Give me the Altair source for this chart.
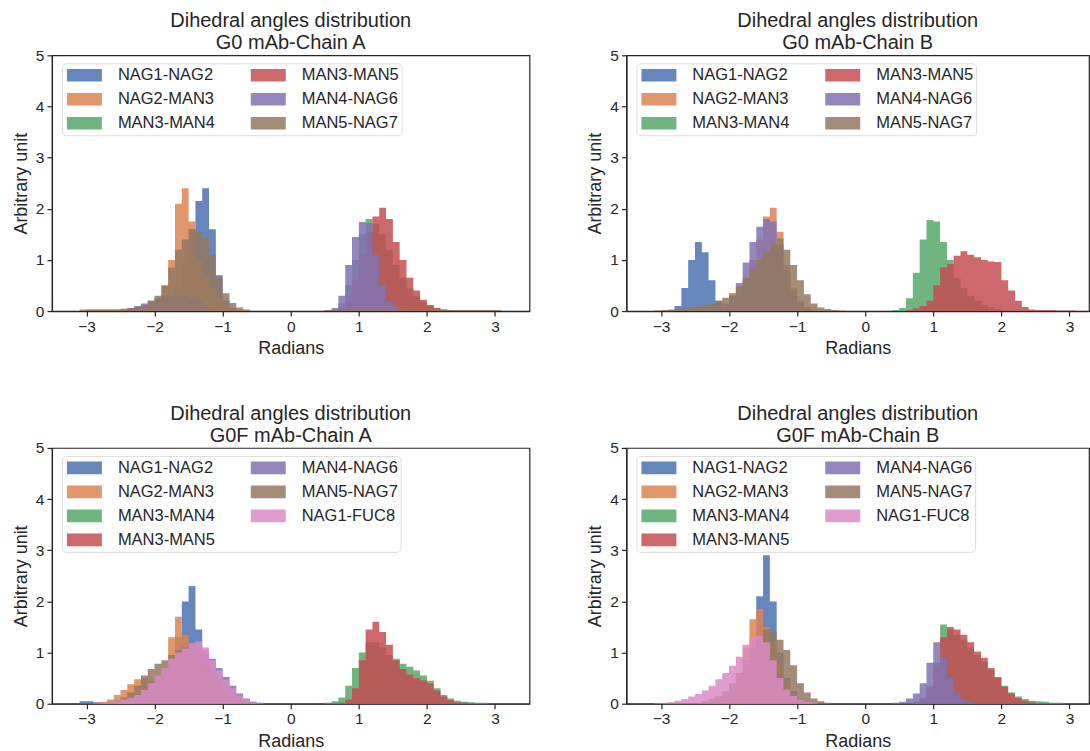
import altair as alt
import pandas as pd

FONT = "Liberation Sans"
TEXT = "#262626"

BIN = 0.1          # histogram bin width (radians)
GRID_START = -3.1  # left edge of the first bin
NBINS = 62

SERIES = ["NAG1-NAG2", "NAG2-MAN3", "MAN3-MAN4", "MAN3-MAN5", "MAN4-NAG6", "MAN5-NAG7", "NAG1-FUC8"]
COLORS = ["#4C72B0", "#DD8452", "#55A868", "#C44E52", "#8172B3", "#937860", "#DA8BC3"]

TITLES = ["G0 mAb-Chain A", "G0 mAb-Chain B", "G0F mAb-Chain A", "G0F mAb-Chain B"]

# Each series: list of (left edge of first bin, bin heights)
# ---- G0 mAb-Chain A
g0a_nag1_nag2 = [(-2.0, [0.03, 0.08, 0.2, 0.45, 0.9, 1.6, 2.15, 2.4, 1.6, 0.7, 0.2, 0.06, 0.02])]
g0a_nag2_man3 = [(-3.1, [0.03, 0.04, 0.04, 0.04, 0.04, 0.04, 0.05, 0.05, 0.07, 0.1, 0.15, 0.25, 0.5, 1.0,
                         2.1, 2.4, 1.75, 1.0, 0.7, 0.45, 0.25, 0.12, 0.05, 0.02])]
g0a_man3_man4 = [(0.6, [0.03, 0.15, 0.5, 1.0, 1.5, 1.8, 1.7, 1.5, 1.2, 0.9, 0.65, 0.45, 0.3, 0.18, 0.1, 0.05, 0.03])]
g0a_man3_man5 = [(0.7, [0.05, 0.2, 0.6, 1.1, 1.55, 1.85, 2.02, 1.8, 1.35, 1.0, 0.65, 0.4, 0.22, 0.12, 0.06, 0.03, 0.02])]
g0a_man4_nag6 = [(-2.5, [0.03, 0.06, 0.1, 0.15, 0.2, 0.25, 0.3, 0.3, 0.3, 0.3, 0.25, 0.2, 0.12, 0.06, 0.02]),
                 (0.5, [0.02, 0.06, 0.3, 0.9, 1.45, 1.74, 1.72, 1.1, 0.5, 0.2, 0.08, 0.03])]
g0a_man5_nag7 = [(-3.1, [0.02, 0.02, 0.02, 0.02, 0.02, 0.02, 0.03, 0.05, 0.08, 0.12, 0.2, 0.3, 0.5, 0.85, 1.2,
                         1.4, 1.6, 1.55, 1.45, 1.1, 0.65, 0.35, 0.16, 0.07, 0.03]),
                 (0.5, [0.02, 0.02, 0.03, 0.03, 0.03, 0.03, 0.03, 0.03, 0.03, 0.03, 0.03, 0.03, 0.03, 0.03, 0.03,
                        0.03, 0.02, 0.02, 0.02, 0.02, 0.02, 0.02, 0.02, 0.02, 0.02, 0.02])]

# ---- G0 mAb-Chain B
g0b_nag1_nag2 = [(-2.9, [0.02, 0.1, 0.45, 1.0, 1.35, 1.15, 0.6, 0.2, 0.05, 0.02])]
g0b_nag2_man3 = [(-2.1, [0.05, 0.12, 0.3, 0.6, 1.0, 1.4, 1.85, 2.02, 1.55, 0.9, 0.45, 0.2, 0.08, 0.03])]
g0b_man3_man4 = [(0.4, [0.02, 0.06, 0.25, 0.75, 1.4, 1.78, 1.75, 1.35, 1.0, 0.65, 0.45, 0.3, 0.2, 0.12, 0.07, 0.04, 0.02])]
g0b_man3_man5 = [(0.6, [0.02, 0.05, 0.1, 0.2, 0.5, 0.85, 0.92, 1.08, 1.17, 1.1, 1.05, 1.0, 0.97, 0.96, 0.6, 0.4,
                        0.2, 0.08, 0.03, 0.02, 0.02, 0.02, 0.01, 0.01, 0.01])]
g0b_man4_nag6 = [(-2.3, [0.03, 0.08, 0.15, 0.3, 0.55, 0.95, 1.35, 1.65, 1.8, 1.75, 1.3, 0.8, 0.4, 0.15, 0.05])]
g0b_man5_nag7 = [(-3.1, [0.01, 0.02, 0.03, 0.04, 0.05, 0.07, 0.09, 0.12, 0.16, 0.2, 0.26, 0.35, 0.48, 0.65, 0.82,
                         1.0, 1.15, 1.3, 1.42, 1.2, 0.9, 0.6, 0.33, 0.15, 0.07, 0.04, 0.02, 0.01])]

# ---- G0F mAb-Chain A
g0fa_nag1_nag2 = [(-3.1, [0.05, 0.05, 0.03, 0.02, 0.02, 0.02, 0.02, 0.03, 0.04, 0.06, 0.08, 0.12, 0.25, 0.6,
                          1.3, 2.0, 2.3, 1.45, 0.95, 0.55, 0.3, 0.12, 0.05, 0.02])]
g0fa_nag2_man3 = [(-2.9, [0.02, 0.04, 0.08, 0.17, 0.27, 0.38, 0.48, 0.5, 0.45, 0.55, 0.7, 1.3, 1.7, 1.35, 1.0,
                          0.8, 0.6, 0.4, 0.25, 0.12, 0.05])]
g0fa_man3_man4 = [(0.5, [0.02, 0.05, 0.12, 0.35, 0.7, 1.0, 1.2, 1.2, 1.1, 0.95, 0.88, 0.78, 0.72, 0.65, 0.55,
                         0.45, 0.3, 0.17, 0.1, 0.06, 0.04, 0.03, 0.02, 0.02])]
g0fa_man3_man5 = [(0.7, [0.02, 0.08, 0.3, 0.85, 1.45, 1.6, 1.4, 1.15, 0.85, 0.68, 0.57, 0.5, 0.46, 0.4, 0.26,
                         0.14, 0.07, 0.03, 0.02])]
g0fa_man4_nag6 = [(-2.4, [0.08, 0.14, 0.22, 0.32, 0.45, 0.6, 0.78, 0.95, 1.08, 1.15, 1.15, 1.05, 0.88, 0.7,
                          0.52, 0.35, 0.2, 0.1, 0.04, 0.02])]
g0fa_man5_nag7 = [(-2.7, [0.03, 0.06, 0.12, 0.22, 0.35, 0.55, 0.68, 0.78, 0.85, 0.95, 1.05, 1.1, 1.1, 1.0,
                          0.85, 0.65, 0.45, 0.28, 0.15, 0.07, 0.03])]
g0fa_nag1_fuc8 = [(-2.8, [0.02, 0.03, 0.05, 0.08, 0.11, 0.17, 0.27, 0.4, 0.55, 0.7, 0.88, 1.0, 1.08, 1.18,
                          1.22, 1.1, 0.85, 0.65, 0.47, 0.3, 0.16, 0.08, 0.03, 0.01])]

# ---- G0F mAb-Chain B
g0fb_nag1_nag2 = [(-2.0, [0.15, 0.3, 0.55, 1.0, 2.1, 2.9, 2.0, 1.0, 0.5, 0.25, 0.1, 0.04])]
g0fb_nag2_man3 = [(-2.2, [0.1, 0.2, 0.35, 0.6, 1.1, 1.65, 1.85, 1.5, 1.2, 0.8, 0.45, 0.2, 0.08, 0.03])]
g0fb_man3_man4 = [(0.7, [0.04, 0.12, 0.35, 0.8, 1.55, 1.45, 1.35, 1.25, 1.1, 0.95, 0.82, 0.66, 0.5, 0.35, 0.22,
                         0.14, 0.09, 0.06, 0.05, 0.04, 0.02, 0.02])]
g0fb_man3_man5 = [(0.7, [0.03, 0.1, 0.3, 0.75, 1.3, 1.5, 1.45, 1.35, 1.2, 1.02, 0.9, 0.7, 0.52, 0.33, 0.2,
                         0.11, 0.06, 0.03])]
g0fb_man4_nag6 = [(0.4, [0.02, 0.04, 0.1, 0.2, 0.4, 0.8, 1.2, 0.9, 0.5, 0.22, 0.08, 0.03])]
g0fb_man5_nag7 = [(-2.4, [0.05, 0.1, 0.15, 0.25, 0.4, 0.6, 0.85, 1.1, 1.3, 1.45, 1.4, 1.25, 1.05, 0.75, 0.4,
                          0.22, 0.1, 0.05, 0.02])]
g0fb_nag1_fuc8 = [(-3.1, [0.01, 0.02, 0.03, 0.06, 0.09, 0.14, 0.19, 0.26, 0.35, 0.48, 0.6, 0.74, 0.92, 1.15,
                          1.3, 1.33, 1.2, 0.85, 0.5, 0.28, 0.15, 0.08, 0.04, 0.02])]

PANELS = [
    [g0a_nag1_nag2, g0a_nag2_man3, g0a_man3_man4, g0a_man3_man5, g0a_man4_nag6, g0a_man5_nag7],
    [g0b_nag1_nag2, g0b_nag2_man3, g0b_man3_man4, g0b_man3_man5, g0b_man4_nag6, g0b_man5_nag7],
    [g0fa_nag1_nag2, g0fa_nag2_man3, g0fa_man3_man4, g0fa_man3_man5, g0fa_man4_nag6, g0fa_man5_nag7, g0fa_nag1_fuc8],
    [g0fb_nag1_nag2, g0fb_nag2_man3, g0fb_man3_man4, g0fb_man3_man5, g0fb_man4_nag6, g0fb_man5_nag7, g0fb_nag1_fuc8],
]

SYMBOL = "M-1,-0.36L1,-0.36L1,0.36L-1,0.36Z"
XHALF = 3.507


def series_frame(name, segments):
    heights = [0.0] * NBINS
    for start, vals in segments:
        i0 = int(round((start - GRID_START) / BIN))
        for k, v in enumerate(vals):
            heights[i0 + k] = v
    xs = [round(GRID_START + BIN * i, 4) for i in range(NBINS + 1)]
    hs = heights + [heights[-1]]
    return pd.DataFrame({"x": xs, "h": hs, "series": name})


def panel(idx, width, xmax):
    data = PANELS[idx]
    names = SERIES[:len(data)]
    crange = COLORS[:len(data)]
    df = pd.concat([series_frame(n, segs) for n, segs in zip(names, data)], ignore_index=True)
    base = alt.Chart(df)
    layers = []
    for n in names:
        layers.append(
            base.transform_filter(alt.datum.series == n)
            .mark_area(interpolate="step-after", opacity=0.85)
            .encode(
                x=alt.X("x:Q", scale=alt.Scale(domain=[-XHALF, xmax], nice=False, zero=False),
                        axis=alt.Axis(values=[-3, -2, -1, 0, 1, 2, 3], title="Radians", format="d")),
                y=alt.Y("h:Q", stack=None, scale=alt.Scale(domain=[0, 5], nice=False),
                        axis=alt.Axis(values=[0, 1, 2, 3, 4, 5], title="Arbitrary unit")),
                color=alt.Color("series:N",
                                scale=alt.Scale(domain=names, range=crange),
                                legend=alt.Legend(title=None, orient="none", legendX=10, legendY=8,
                                                  columns=2, symbolType=SYMBOL, symbolSize=1225,
                                                  symbolStrokeWidth=0, symbolOpacity=0.85,
                                                  symbolOffset=3, clipHeight=20,
                                                  labelFont=FONT, labelFontSize=16.5, labelColor=TEXT,
                                                  labelOffset=16, labelLimit=300,
                                                  fillColor="rgba(255,255,255,0.8)", strokeColor="#dcdcdc",
                                                  cornerRadius=4, padding=2, rowPadding=4,
                                                  columnPadding=32)),
            )
        )
    return alt.layer(*layers).properties(
        width=width, height=256,
        title=alt.TitleParams(["Dihedral angles distribution", TITLES[idx]], fontSize=20, font=FONT,
                              fontWeight="normal", color=TEXT, anchor="middle", lineHeight=22, offset=-5),
    )


RIGHT_W = 463
RIGHT_MAX = -XHALF + (XHALF * 2) * RIGHT_W / 478

p1 = panel(0, 478, XHALF)
p2 = panel(1, RIGHT_W, RIGHT_MAX)
p3 = panel(2, 478, XHALF)
p4 = panel(3, RIGHT_W, RIGHT_MAX)

HSP = 55
row1 = alt.hconcat(p1, p2, spacing=HSP).resolve_scale(color="independent").resolve_legend(color="independent")
row2 = alt.hconcat(p3, p4, spacing=HSP).resolve_scale(color="independent").resolve_legend(color="independent")

chart = (
    alt.vconcat(row1, row2, spacing=44)
    .resolve_scale(color="independent")
    .resolve_legend(color="independent")
    .properties(padding={"left": 11, "top": 10, "right": 0, "bottom": 0}, background="white")
    .configure_axis(labelFont=FONT, titleFont=FONT, labelFontSize=15.5, titleFontSize=18,
                    titleFontWeight="normal", labelColor=TEXT, titleColor=TEXT, tickColor=TEXT,
                    domainColor=TEXT, tickSize=5, tickWidth=1.2, domainWidth=1.2, grid=False,
                    labelPadding=3, titlePadding=5)
    .configure_view(stroke=TEXT, strokeWidth=1.2)
)

chart.save("out.html", embed_options={"renderer": "svg", "actions": False})
